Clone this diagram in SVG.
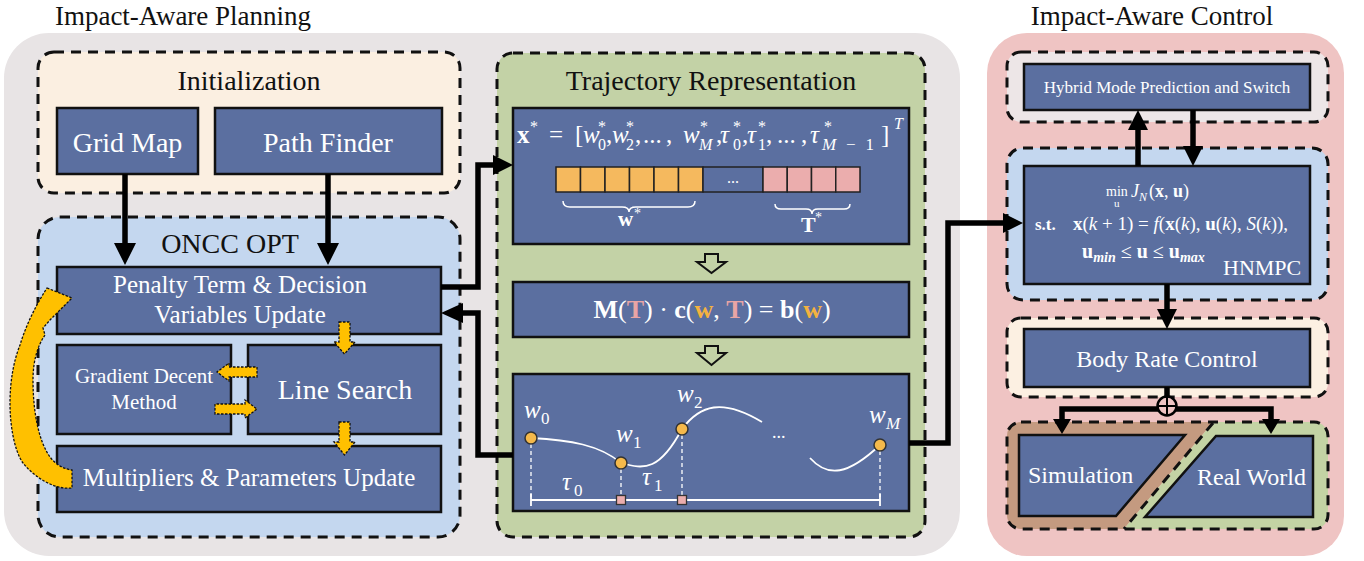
<svg xmlns="http://www.w3.org/2000/svg" width="1364" height="561" viewBox="0 0 1364 561">
<defs>
<style>
text{font-family:"Liberation Serif","Times New Roman",serif;}
.ttl{font-size:28px;fill:#111}
.hdr{font-size:27px;fill:#111}
.box{fill:#5B6FA0;stroke:#111;stroke-width:2.5}
.dash{stroke:#111;stroke-width:3;stroke-dasharray:10 7}
.wt{fill:#fff}
.conn{fill:none;stroke:#000;stroke-width:5.5}
.head{fill:#000}
.yel{fill:#FFC000;stroke:#111;stroke-width:1.3;stroke-dasharray:2.5 1.5}
.hol{fill:#C3D2A6;stroke:#111;stroke-width:2}
.mi{font-style:italic}
.mb{font-weight:bold}
.pt{fill:#F5B94B;stroke:#333;stroke-width:1.5}
.sq{fill:#EBADAD;stroke:#333;stroke-width:1.3}
.vd{stroke:#fff;stroke-width:1.3;stroke-dasharray:4 3}
</style>
<clipPath id="envClip"><rect x="1007" y="422" width="321" height="107" rx="14"/></clipPath>
</defs>

<rect x="0" y="0" width="1364" height="561" fill="#fff"/>

<!-- panels -->
<g id="planning-panel">
<rect x="4" y="33" width="956" height="523" rx="45" fill="#E8E4E5"/>
<text x="183" y="25" text-anchor="middle" class="hdr">Impact-Aware Planning</text>
</g>
<g id="control-panel">
<rect x="987" y="33" width="357" height="523" rx="40" fill="#EFC4C3"/>
<text x="1152" y="25" text-anchor="middle" class="hdr">Impact-Aware Control</text>
</g>

<!-- initialization -->
<g id="initialization">
<rect x="38" y="52" width="422" height="141" rx="16" fill="#FBEFE1" class="dash"/>
<text x="249" y="90" text-anchor="middle" class="ttl">Initialization</text>
</g>
<g id="grid-map">
<rect x="57" y="108" width="141" height="66" class="box"/>
<text x="127.5" y="152" text-anchor="middle" font-size="28" class="wt">Grid Map</text>
</g>
<g id="path-finder">
<rect x="215" y="108" width="227" height="66" class="box"/>
<text x="328" y="152" text-anchor="middle" font-size="28" class="wt">Path Finder</text>
</g>

<!-- optimizer -->
<g id="oncc-opt">
<rect x="38" y="217" width="422" height="320" rx="22" fill="#C4D7EF" class="dash"/>
<text x="230" y="253" text-anchor="middle" class="ttl">ONCC OPT</text>
</g>
<g id="penalty-update">
<rect x="57" y="267" width="384" height="67" class="box"/>
<text x="240" y="293" text-anchor="middle" font-size="25" class="wt">Penalty Term &amp; Decision</text>
<text x="240" y="323" text-anchor="middle" font-size="25" class="wt">Variables Update</text>
</g>
<g id="gradient-descent">
<rect x="57" y="345" width="174" height="89" class="box"/>
<text x="144" y="383" text-anchor="middle" font-size="21" class="wt">Gradient Decent</text>
<text x="144" y="409" text-anchor="middle" font-size="21" class="wt">Method</text>
</g>
<g id="line-search">
<rect x="248" y="345" width="193" height="89" class="box"/>
<text x="345" y="399" text-anchor="middle" font-size="28" class="wt">Line Search</text>
</g>
<g id="multipliers-update">
<rect x="57" y="446" width="384" height="66" class="box"/>
<text x="249" y="486" text-anchor="middle" font-size="25" class="wt">Multipliers &amp; Parameters Update</text>
</g>

<!-- inner loop arrows -->
<g id="loop-arrows">
<path class="yel" d="M339 322 H350 V342 H355 L344.5 354 L334 342 H339 Z"/>
<path class="yel" d="M339 422 H350 V442 H355 L344.5 455 L334 442 H339 Z"/>
<path class="yel" d="M257 367 V377 H229 V381 L217 372 L229 363 V367 Z"/>
<path class="yel" d="M215 404 V414 H245 V418 L257 409 L245 400 V404 Z"/>
<path class="yel" d="M47 288 L72 298 L50 320 L43 328 L45 335 C38 345 33 360 33 380 C33 410 38 440 50 457 C56 465 64 469 72 470 L72 488 C55 490 35 478 23 463 C14 450 10 425 10 403 C10 380 14 360 20 345 C26 325 36 305 47 288 Z"/>
</g>

<!-- trajectory representation -->
<g id="trajectory-representation">
<rect x="497" y="53" width="428" height="484" rx="16" fill="#C3D2A6" class="dash"/>
<text x="711" y="90" text-anchor="middle" class="ttl">Trajectory Representation</text>
</g>
<g id="decision-vector">
<rect x="513" y="108" width="396" height="136" class="box"/>
<g class="wt" font-size="25">
<text x="517" y="143" class="mb">x</text>
<text x="530" y="132" font-size="16">*</text>
<text x="549" y="143">=</text>
<text x="575" y="143">[</text>
<text x="583" y="143" class="mi">w</text><text x="598" y="150" font-size="16">0</text><text x="598" y="132" font-size="16">*</text>
<text x="606" y="143">,</text>
<text x="612" y="143" class="mi">w</text><text x="626" y="150" font-size="16">2</text><text x="626" y="132" font-size="16">*</text>
<text x="635" y="143">,</text>
<text x="643" y="143">...</text>
<text x="666" y="143">,</text>
<text x="683" y="143" class="mi">w</text><text x="699" y="150" font-size="16" class="mi">M</text><text x="700" y="132" font-size="16">*</text>
<text x="716" y="143">,</text>
<text x="720" y="143" class="mi">τ</text><text x="733" y="150" font-size="16">0</text><text x="733" y="132" font-size="16">*</text>
<text x="742" y="143">,</text>
<text x="747" y="143" class="mi">τ</text><text x="758" y="150" font-size="16">1</text><text x="758" y="132" font-size="16">*</text>
<text x="766" y="143">,</text>
<text x="777" y="143">...</text>
<text x="801" y="143">,</text>
<text x="810" y="143" class="mi">τ</text><text x="822" y="150" font-size="17" textLength="52" lengthAdjust="spacing"><tspan class="mi">M</tspan>−1</text><text x="824" y="132" font-size="16">*</text>
<text x="881" y="143">]</text>
<text x="894" y="129" font-size="16" class="mi">T</text>
</g>
<g stroke="#222" stroke-width="1.5">
<rect x="556" y="167" width="24.5" height="25" fill="#F5B95E"/>
<rect x="580.5" y="167" width="24.5" height="25" fill="#F5B95E"/>
<rect x="605" y="167" width="24.5" height="25" fill="#F5B95E"/>
<rect x="629.5" y="167" width="24.5" height="25" fill="#F5B95E"/>
<rect x="654" y="167" width="24.5" height="25" fill="#F5B95E"/>
<rect x="678.5" y="167" width="24.5" height="25" fill="#F5B95E"/>
<rect x="703" y="167" width="60" height="25" fill="#5B6FA0"/>
<rect x="763" y="167" width="24.25" height="25" fill="#EBADAD"/>
<rect x="787.25" y="167" width="24.25" height="25" fill="#EBADAD"/>
<rect x="811.5" y="167" width="24.25" height="25" fill="#EBADAD"/>
<rect x="835.75" y="167" width="24.25" height="25" fill="#EBADAD"/>
</g>
<text x="733" y="183" text-anchor="middle" font-size="16" class="wt">...</text>
<g fill="none" stroke="#fff" stroke-width="1.5">
<path d="M563 201 Q563 207 570 207 L622 207 Q629 207 629 212 Q629 207 636 207 L688 207 Q695 207 695 201"/>
<path d="M775 204 Q775 209 781 209 L806 209 Q812 209 812 214 Q812 209 818 209 L844 209 Q850 209 850 204"/>
</g>
<text x="618" y="226" font-size="21" class="wt mb">w</text>
<text x="634" y="218" font-size="14" class="wt">*</text>
<text x="801" y="232" font-size="22" class="wt mb">T</text>
<text x="815" y="222" font-size="14" class="wt">*</text>
</g>
<g id="mapping-arrows">
<path class="hol" d="M705 254 H718 V262 H726 L711.5 273 L697 262 H705 Z"/>
<path class="hol" d="M705 346 H718 V353 H726 L711.5 365 L697 353 H705 Z"/>
</g>
<g id="linear-system">
<rect x="513" y="282" width="396" height="55" class="box"/>
<text x="712" y="318" text-anchor="middle" font-size="26" class="wt"><tspan class="mb">M</tspan>(<tspan class="mb" fill="#E9A5A5">T</tspan>) · <tspan class="mb">c</tspan>(<tspan class="mb" fill="#F4B23F">w</tspan>, <tspan class="mb" fill="#E9A5A5">T</tspan>) = <tspan class="mb">b</tspan>(<tspan class="mb" fill="#F4B23F">w</tspan>)</text>
</g>
<g id="trajectory-curve">
<rect x="513" y="374" width="396" height="137" class="box"/>
<g fill="none" stroke="#fff" stroke-width="1.8">
<path d="M531 438 C570 440 600 445 621 463 C645 470 660 470 682 429 C700 405 722 398 762 422"/>
<path d="M810 458 C828 478 848 475 880 445"/>
<path d="M531 500 H880 M531 494 V506 M880 494 V506"/>
</g>
<path class="vd" d="M531 444 V497 M621 469 V496 M682 435 V496 M880 451 V497"/>
<circle cx="531" cy="438" r="6" class="pt"/>
<circle cx="621" cy="463" r="6" class="pt"/>
<circle cx="682" cy="429" r="6" class="pt"/>
<circle cx="880" cy="445" r="6" class="pt"/>
<rect x="616.5" y="495.5" width="9" height="9" class="sq"/>
<rect x="677.5" y="495.5" width="9" height="9" class="sq"/>
<g class="wt" font-size="25">
<text x="524" y="418" class="mi">w</text><text x="541" y="424" font-size="17">0</text>
<text x="616" y="442" class="mi">w</text><text x="633" y="448" font-size="17">1</text>
<text x="677" y="402" class="mi">w</text><text x="694" y="408" font-size="17">2</text>
<text x="869" y="423" class="mi">w</text><text x="886" y="429" font-size="17" class="mi">M</text>
<text x="562" y="490" class="mi">τ</text><text x="574" y="496" font-size="17">0</text>
<text x="642" y="485" class="mi">τ</text><text x="654" y="491" font-size="17">1</text>
<text x="772" y="438" font-size="18">...</text>
</g>
</g>

<!-- control side -->
<g id="hybrid-mode">
<rect x="1007" y="52" width="321" height="70" rx="14" fill="#EDE6E7" class="dash"/>
<rect x="1024" y="64" width="286" height="46" class="box"/>
<text x="1167" y="93" text-anchor="middle" font-size="17" class="wt">Hybrid Mode Prediction and Switch</text>
</g>
<g id="hnmpc">
<rect x="1007" y="148" width="321" height="152" rx="16" fill="#C4D7EF" class="dash"/>
<rect x="1024" y="166" width="286" height="118" class="box"/>
<g class="wt">
<text x="1106" y="196" font-size="14">min</text>
<text x="1114" y="207" font-size="11">u</text>
<text x="1131" y="197" font-size="18" class="mi">J</text>
<text x="1139" y="201" font-size="12" class="mi">N</text>
<text x="1149" y="197" font-size="18">(<tspan class="mb">x</tspan>, <tspan class="mb">u</tspan>)</text>
<text x="1035" y="230" font-size="17" class="mb">s.t.</text>
<text x="1073" y="230" font-size="19"><tspan class="mb">x</tspan>(<tspan class="mi">k</tspan> + 1) = <tspan class="mi">f</tspan>(<tspan class="mb">x</tspan>(<tspan class="mi">k</tspan>), <tspan class="mb">u</tspan>(<tspan class="mi">k</tspan>), <tspan class="mi">S</tspan>(<tspan class="mi">k</tspan>)),</text>
<text x="1082" y="258" font-size="20"><tspan class="mb">u</tspan><tspan font-size="14" dy="4" class="mi mb">min</tspan><tspan dy="-4"> ≤ </tspan><tspan class="mb">u</tspan> ≤ <tspan class="mb">u</tspan><tspan font-size="14" dy="4" class="mi mb">max</tspan></text>
<text x="1223" y="275" font-size="22">HNMPC</text>
</g>
</g>
<g id="body-rate-control">
<rect x="1007" y="318" width="321" height="79" rx="14" fill="#FCF0E2" class="dash"/>
<rect x="1024" y="329" width="286" height="58" class="box"/>
<text x="1167" y="367" text-anchor="middle" font-size="24" class="wt">Body Rate Control</text>
</g>
<g id="environments">
<g clip-path="url(#envClip)">
<polygon points="1000,415 1219,415 1118,536 1000,536" fill="#C49A80"/>
<polygon points="1219,415 1335,415 1335,536 1118,536" fill="#C3D3A4"/>
</g>
<rect x="1007" y="422" width="321" height="107" rx="14" fill="none" class="dash"/>
<line x1="1213" y1="423" x2="1124" y2="529" class="dash"/>
</g>
<g id="simulation">
<polygon points="1019,435 1185,435 1116,516 1019,516" class="box"/>
<text x="1028" y="483" font-size="24" class="wt">Simulation</text>
</g>
<g id="real-world">
<polygon points="1216,436 1313,436 1313,517 1145,517" class="box"/>
<text x="1197" y="485" font-size="24" class="wt">Real World</text>
</g>

<!-- connectors -->
<g id="connectors">
<path class="conn" d="M125 174 V245 M328 174 V245"/>
<path class="head" d="M114 243 L136 243 L125 265 Z M317 243 L339 243 L328 265 Z"/>
<path class="conn" d="M441 287 H478 V165 H495"/>
<path class="head" d="M493 155 L513 165 L493 175 Z"/>
<path class="conn" d="M513 455 H478 V313 H461"/>
<path class="head" d="M463 303 L441 313 L463 323 Z"/>
<path class="conn" d="M909 443 H948 V223 H1005"/>
<path class="head" d="M1003 213 L1023 223 L1003 233 Z"/>
<path class="conn" d="M1138 166 V128 M1193 110 V148 M1167 284 V311 M1167 387 V398"/>
<path class="head" d="M1128 130 L1148 130 L1138 110 Z M1183 146 L1203 146 L1193 166 Z M1157 309 L1177 309 L1167 329 Z"/>
<path class="conn" d="M1062 421 V409 H1271 V421"/>
<path class="head" d="M1053 419 L1071 419 L1062 434 Z M1262 419 L1280 419 L1271 434 Z"/>
<circle cx="1167" cy="406" r="9.5" fill="#EFC4C3" stroke="#000" stroke-width="2.5"/>
<path d="M1157.5 406 H1176.5 M1167 396.5 V415.5" stroke="#000" stroke-width="2"/>
</g>
</svg>
